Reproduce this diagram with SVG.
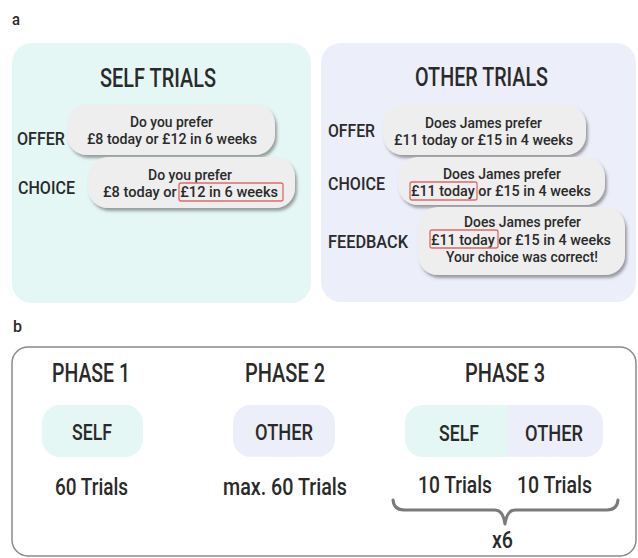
<svg xmlns="http://www.w3.org/2000/svg" width="638" height="558" viewBox="0 0 638 558">
<defs>
<filter id="sh" x="-10%" y="-20%" width="125%" height="150%">
<feDropShadow dx="2" dy="3" stdDeviation="1.8" flood-color="#555" flood-opacity="0.55"/>
</filter>
<style>
text{font-family:"Roboto","Liberation Sans","DejaVu Sans",sans-serif;fill:#2a2a2a;font-weight:500;}
.ttl{font-size:26px;}
.lbl{font-size:19px;}
.bt{font-size:15.5px;}
.ph{font-size:25px;}
.pl{font-size:22px;}
.tr{font-size:23px;}
.bub{fill:#eeeeee;filter:url(#sh);}
.red{fill:none;stroke:#e06a6a;stroke-width:1.3;}
.self{fill:#e4f7f5;}
.other{fill:#eceefa;}
</style>
</defs>
<rect width="638" height="558" fill="#ffffff"/>

<g id="panel-a">
<text x="12" y="25" font-size="17" font-weight="700" textLength="8" lengthAdjust="spacingAndGlyphs">a</text>
</g>

<g id="self-trials">
<rect class="self" x="12" y="43" width="299" height="260" rx="20"/>
<text class="ttl" x="100" y="87" textLength="116" lengthAdjust="spacingAndGlyphs">SELF TRIALS</text>
</g>

<g id="self-offer">
<text class="lbl" x="17" y="145" textLength="48" lengthAdjust="spacingAndGlyphs">OFFER</text>
<rect class="bub" x="67" y="104" width="208" height="51" rx="20"/>
<text class="bt" x="130" y="127" textLength="83" lengthAdjust="spacingAndGlyphs">Do you prefer</text>
<text class="bt" x="87" y="144" textLength="170" lengthAdjust="spacingAndGlyphs">£8 today or £12 in 6 weeks</text>
</g>

<g id="self-choice">
<text class="lbl" x="18" y="194" textLength="57" lengthAdjust="spacingAndGlyphs">CHOICE</text>
<rect class="bub" x="88" y="157" width="207" height="51" rx="20"/>
<text class="bt" x="148" y="180" textLength="84" lengthAdjust="spacingAndGlyphs">Do you prefer</text>
<text class="bt" x="103" y="197" textLength="175" lengthAdjust="spacingAndGlyphs">£8 today or £12 in 6 weeks</text>
<rect class="red" x="179" y="183" width="104" height="18" rx="2"/>
</g>

<g id="other-trials">
<rect class="other" x="321" y="43" width="315" height="259" rx="20"/>
<text class="ttl" x="415" y="86" textLength="133" lengthAdjust="spacingAndGlyphs">OTHER TRIALS</text>
</g>

<g id="other-offer">
<text class="lbl" x="328" y="137" textLength="47" lengthAdjust="spacingAndGlyphs">OFFER</text>
<rect class="bub" x="383" y="105" width="203" height="50" rx="20"/>
<text class="bt" x="425" y="128" textLength="117" lengthAdjust="spacingAndGlyphs">Does James prefer</text>
<text class="bt" x="394" y="145" textLength="179" lengthAdjust="spacingAndGlyphs">£11 today or £15 in 4 weeks</text>
</g>

<g id="other-choice">
<text class="lbl" x="328" y="190" textLength="57" lengthAdjust="spacingAndGlyphs">CHOICE</text>
<rect class="bub" x="398" y="157" width="207" height="48" rx="20"/>
<text class="bt" x="443" y="179" textLength="118" lengthAdjust="spacingAndGlyphs">Does James prefer</text>
<text class="bt" x="411" y="196" textLength="180" lengthAdjust="spacingAndGlyphs">£11 today or £15 in 4 weeks</text>
<rect class="red" x="410" y="182" width="67" height="18" rx="2"/>
</g>

<g id="other-feedback">
<text class="lbl" x="328" y="248" textLength="80" lengthAdjust="spacingAndGlyphs">FEEDBACK</text>
<rect class="bub" x="418" y="207" width="207" height="68" rx="20"/>
<text class="bt" x="464" y="227" textLength="117" lengthAdjust="spacingAndGlyphs">Does James prefer</text>
<text class="bt" x="431" y="245" textLength="180" lengthAdjust="spacingAndGlyphs">£11 today or £15 in 4 weeks</text>
<text class="bt" x="446" y="262" textLength="152" lengthAdjust="spacingAndGlyphs">Your choice was correct!</text>
<rect class="red" x="430" y="230" width="68" height="18" rx="2"/>
</g>

<g id="panel-b">
<text x="13" y="332" font-size="17" font-weight="700" textLength="9" lengthAdjust="spacingAndGlyphs">b</text>
<rect x="12" y="347" width="624" height="209" rx="16" fill="#ffffff" stroke="#8a8a8a" stroke-width="1.5"/>
</g>

<g id="phase1">
<text class="ph" x="52" y="382" textLength="78" lengthAdjust="spacingAndGlyphs">PHASE 1</text>
<rect class="self" x="42" y="405" width="101" height="52" rx="18"/>
<text class="pl" x="72" y="440" textLength="40" lengthAdjust="spacingAndGlyphs">SELF</text>
<text class="tr" x="55" y="495" textLength="73" lengthAdjust="spacingAndGlyphs">60 Trials</text>
</g>

<g id="phase2">
<text class="ph" x="245" y="382" textLength="80" lengthAdjust="spacingAndGlyphs">PHASE 2</text>
<rect class="other" x="233" y="405" width="102" height="52" rx="18"/>
<text class="pl" x="255" y="440" textLength="58" lengthAdjust="spacingAndGlyphs">OTHER</text>
<text class="tr" x="223" y="495" textLength="124" lengthAdjust="spacingAndGlyphs">max. 60 Trials</text>
</g>

<g id="phase3">
<text class="ph" x="465" y="382" textLength="80" lengthAdjust="spacingAndGlyphs">PHASE 3</text>
<path class="self" d="M508 405 H423 A18 18 0 0 0 405 423 V439 A18 18 0 0 0 423 457 H508 Z"/>
<path class="other" d="M508 405 H585 A18 18 0 0 1 603 423 V439 A18 18 0 0 1 585 457 H508 Z"/>
<text class="pl" x="439" y="441" textLength="40" lengthAdjust="spacingAndGlyphs">SELF</text>
<text class="pl" x="525" y="441" textLength="58" lengthAdjust="spacingAndGlyphs">OTHER</text>
<text class="tr" x="418" y="493" textLength="74" lengthAdjust="spacingAndGlyphs">10 Trials</text>
<text class="tr" x="517" y="493" textLength="75" lengthAdjust="spacingAndGlyphs">10 Trials</text>
</g>

<g id="brace">
<path d="M393 500 Q394 510 404 510 H495 Q503 510 505 524 Q507 510 515 510 H607 Q617 510 618 500" fill="none" stroke="#7a7a7a" stroke-width="3" stroke-linecap="round" stroke-linejoin="round"/>
<text class="tr" x="492" y="548" textLength="21" lengthAdjust="spacingAndGlyphs">x6</text>
</g>
</svg>
